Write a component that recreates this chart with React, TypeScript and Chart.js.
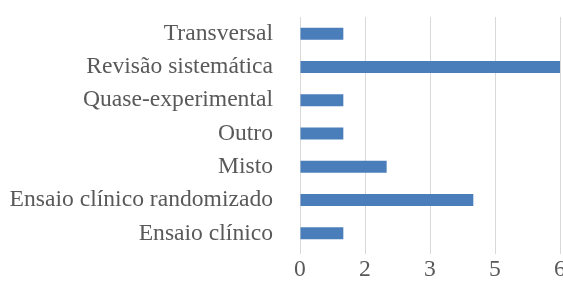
import React, { useEffect, useRef } from "react";
import { Chart, registerables } from "chart.js";

Chart.register(...registerables);

const categories: string[] = [
  "Transversal",
  "Revisão sistemática",
  "Quase-experimental",
  "Outro",
  "Misto",
  "Ensaio clínico randomizado",
  "Ensaio clínico",
];
const counts: number[] = [1, 6, 1, 1, 2, 4, 1];
const xTickValues: number[] = [0, 1.5, 3, 4.5, 6];
const xTickLabels: string[] = ["0", "2", "3", "5", "6"];

const FONT = "'Liberation Serif', 'Times New Roman', serif";

export default function App() {
  const ref = useRef<HTMLCanvasElement | null>(null);
  useEffect(() => {
    document.body.style.margin = "0";
    document.body.style.overflow = "hidden";
    const ctx = ref.current!;
    const chart = new Chart(ctx, {
      type: "bar",
      data: {
        labels: categories,
        datasets: [
          {
            data: counts,
            backgroundColor: "#4a7ebb",
            borderWidth: 0,
            categoryPercentage: 1,
            barPercentage: 0.36,
          },
        ],
      },
      options: {
        indexAxis: "y",
        animation: false,
        responsive: false,
        maintainAspectRatio: false,
        layout: { padding: { top: 17, left: 0, right: 3, bottom: 0 } },
        plugins: { legend: { display: false }, tooltip: { enabled: false } },
        scales: {
          x: {
            min: 0,
            max: 6,
            afterBuildTicks: (scale: any) => {
              scale.ticks = xTickValues.map((v) => ({ value: v }));
            },
            afterFit: (scale: any) => {
              scale.height = 32;
              scale.paddingLeft = 0;
              scale.paddingRight = 0;
            },
            border: { display: false },
            grid: { color: "#d9d9d9", lineWidth: 1, tickLength: 4, drawTicks: true },
            ticks: {
              color: "#595959",
              padding: 2,
              maxRotation: 0,
              autoSkip: false,
              font: { family: FONT, size: 23.6 },
              callback: (_v: any, i: number) => xTickLabels[i],
            },
          },
          y: {
            afterFit: (scale: any) => {
              scale.width = 300;
              scale.paddingTop = 0;
              scale.paddingBottom = 0;
            },
            border: { display: false },
            grid: { display: false, drawTicks: false, tickLength: 0 },
            ticks: {
              color: "#595959",
              padding: 27,
              autoSkip: false,
              font: { family: FONT, size: 23.6 },
            },
          },
        },
      },
    });
    return () => chart.destroy();
  }, []);
  return (
    <div style={{ position: "absolute", left: 0, top: 0, width: 563, height: 282, overflow: "hidden", background: "#fff" }}>
      <canvas ref={ref} width={563} height={282} style={{ display: "block" }} />
    </div>
  );
}
